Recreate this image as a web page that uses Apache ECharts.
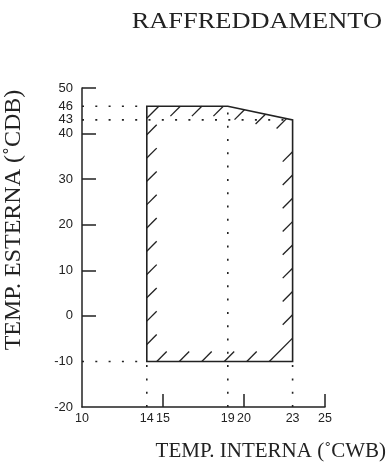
<!DOCTYPE html>
<html><head><meta charset="utf-8">
<script src="https://cdn.jsdelivr.net/npm/echarts@6/dist/echarts.min.js"></script>
<style>html,body{margin:0;padding:0;background:#fff}#c{width:389px;height:465px}</style>
</head><body><div id="c"></div>
<script>
const titleText = 'RAFFREDDAMENTO';
const xAxisTitle = 'TEMP. INTERNA (˚CWB)';
const yAxisTitle = 'TEMP. ESTERNA (˚CDB)';
const xRange = [10, 25];
const yRange = [-20, 50];
const xTickValues = [15, 20, 25];
const xLabelValues = [10, 14, 15, 19, 20, 23, 25];
const yTickValues = [0, 10, 20, 30, 40, 50];
const yLabelValues = [-20, -10, 0, 10, 20, 30, 40, 43, 46, 50];
// operating envelope: internal wet bulb (x), external dry bulb (y)
const envelopeX = [14, 14, 19, 23, 23];
const envelopeY = [-10, 46, 46, 43, -10];
// dotted reference lines
const guideX1 = [10, 10, 10, 14, 19, 23];
const guideY1 = [46, 43, -10, -20, -20, -20];
const guideX2 = [14, 23, 14, 14, 19, 23];
const guideY2 = [46, 43, -10, -10, 46, -10];

const INK = '#222';
const HATCH_LEN = 14, HATCH_MAX = 36;

function cross(a, b) { return a[0] * b[1] - a[1] * b[0]; }

function renderEnvelope(params, api) {
  const pts = envelopeX.map((x, i) => api.coord([x, envelopeY[i]]));
  const n = pts.length;
  let area = 0;
  for (let i = 0; i < n; i++) { const a = pts[i], b = pts[(i + 1) % n]; area += a[0] * b[1] - b[0] * a[1]; }
  const sgn = area > 0 ? 1 : -1;
  const edges = [];
  for (let i = 0; i < n; i++) edges.push([pts[i], pts[(i + 1) % n]]);
  function normal(a, b) { const dx = b[0] - a[0], dy = b[1] - a[1]; return [-dy * sgn, dx * sgn]; }
  function rayDist(p, h) {
    let best = Infinity;
    for (const [a, b] of edges) {
      const d = [b[0] - a[0], b[1] - a[1]];
      const den = cross(h, d);
      if (Math.abs(den) < 1e-9) continue;
      const ap = [a[0] - p[0], a[1] - p[1]];
      const t = cross(ap, d) / den;
      const u = cross(ap, h) / den;
      if (t > 1 && u >= -1e-6 && u <= 1 + 1e-6 && t < best) best = t;
    }
    return best;
  }
  const children = [];
  function chain(idx, offset, spacing, reverse, endGap) {
    let segs = [];
    for (let k = 0; k < idx.length - 1; k++) {
      const a = pts[idx[k]], b = pts[idx[k + 1]];
      segs.push({ a, b, nrm: normal(a, b) });
    }
    if (reverse) segs = segs.reverse().map(s => ({ a: s.b, b: s.a, nrm: s.nrm }));
    const lens = segs.map(s => Math.hypot(s.b[0] - s.a[0], s.b[1] - s.a[1]));
    const total = lens.reduce((p, c) => p + c, 0);
    for (let pos = offset; pos <= total - endGap; pos += spacing) {
      let acc = 0, si = 0;
      while (si < segs.length - 1 && pos > acc + lens[si]) { acc += lens[si]; si++; }
      const s = segs[si], f = (pos - acc) / lens[si];
      const p = [s.a[0] + (s.b[0] - s.a[0]) * f, s.a[1] + (s.b[1] - s.a[1]) * f];
      let h = [Math.SQRT1_2, -Math.SQRT1_2];
      if (h[0] * s.nrm[0] + h[1] * s.nrm[1] < 0) h = [-h[0], -h[1]];
      const rd = rayDist(p, h);
      const L = rd < HATCH_MAX ? rd : HATCH_LEN;
      children.push({ type: 'line', shape: { x1: p[0], y1: p[1], x2: p[0] + h[0] * L, y2: p[1] + h[1] * L },
        style: { stroke: INK, lineWidth: 1.3 } });
    }
  }
  chain([0, 1], 17, 23.3, false, 8);        // left edge
  chain([1, 2, 3], 12, 21.5, false, 6);     // top edge
  chain([3, 4], 46.6, 23.3, true, 10);      // right edge
  chain([4, 0], 10, 22.5, true, 6);         // bottom edge
  children.unshift({ type: 'polygon', shape: { points: pts },
    style: { fill: 'none', stroke: INK, lineWidth: 1.6 } });
  return { type: 'group', children };
}

function renderGuide(params, api) {
  const a = api.coord([api.value(0), api.value(1)]);
  const b = api.coord([api.value(2), api.value(3)]);
  return { type: 'line', shape: { x1: a[0], y1: a[1], x2: b[0], y2: b[1] },
    style: { stroke: INK, lineWidth: 1.6, lineDash: [2, 11.3] } };
}

const chart = echarts.init(document.getElementById('c'), null, { renderer: 'canvas' });
chart.setOption({
  animation: false,
  backgroundColor: '#fff',
  grid: { left: 82, right: 64, top: 88, bottom: 58, containLabel: false },
  xAxis: {
    type: 'value', min: xRange[0], max: xRange[1],
    axisLine: { show: true, onZero: false, lineStyle: { color: INK, width: 1.5 } },
    axisTick: { show: true, inside: true, length: 13, customValues: xTickValues, lineStyle: { color: INK, width: 1.5 } },
    axisLabel: { customValues: xLabelValues, margin: 5, showMinLabel: true, showMaxLabel: true,
      fontFamily: 'Liberation Sans', fontSize: 12.5, color: INK },
    splitLine: { show: false }
  },
  yAxis: {
    type: 'value', min: yRange[0], max: yRange[1],
    axisLine: { show: true, onZero: false, lineStyle: { color: INK, width: 1.5 } },
    axisTick: { show: true, inside: true, length: 14, customValues: yTickValues, lineStyle: { color: INK, width: 1.5 } },
    axisLabel: { customValues: yLabelValues, margin: 9, showMinLabel: true, showMaxLabel: true,
      fontFamily: 'Liberation Sans', fontSize: 13, color: INK },
    splitLine: { show: false }
  },
  graphic: [
    { type: 'text', x: 382, y: 22, scaleX: 1.1,
      style: { text: titleText, font: '24px "Liberation Serif"', fill: INK, align: 'right', verticalAlign: 'middle' } },
    { type: 'text', x: 386, y: 451,
      style: { text: xAxisTitle, font: '21px "Liberation Serif"', fill: INK, align: 'right', verticalAlign: 'middle' } },
    { type: 'text', x: 14, y: 220, rotation: Math.PI / 2,
      style: { text: yAxisTitle, font: '24px "Liberation Serif"', fill: INK, align: 'center', verticalAlign: 'middle' } }
  ],
  series: [
    { type: 'custom', coordinateSystem: 'cartesian2d', clip: false, silent: true,
      data: guideX1.map((x, i) => [x, guideY1[i], guideX2[i], guideY2[i]]),
      encode: { x: [0, 2], y: [1, 3] }, renderItem: renderGuide },
    { type: 'custom', coordinateSystem: 'cartesian2d', clip: false, silent: true,
      data: [[envelopeX[0], envelopeY[0]]], encode: { x: 0, y: 1 }, renderItem: renderEnvelope }
  ]
});
</script></body></html>
